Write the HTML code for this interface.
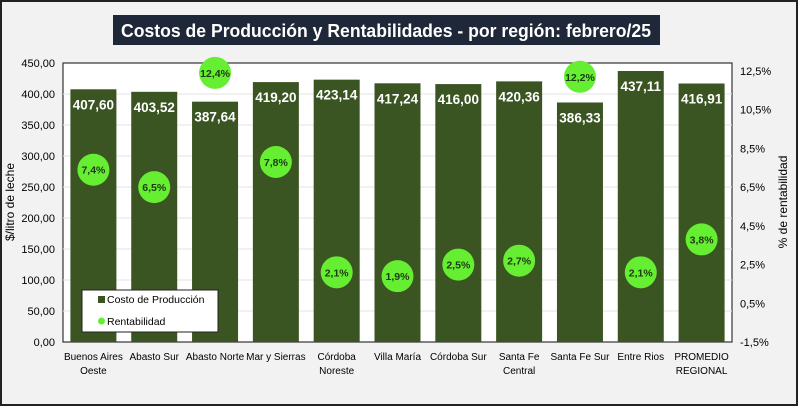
<!DOCTYPE html>
<html><head><meta charset="utf-8"><style>
body{margin:0;background:#fff}
svg{display:block;font-family:"Liberation Sans",sans-serif}
</style></head><body>
<svg id="c" width="800" height="408">
<rect x="1" y="1" width="796" height="404" fill="#f2f2f2" stroke="#222" stroke-width="2"/>
<rect x="113" y="15" width="547" height="30" fill="#1e2838"/>
<text x="386" y="37" text-anchor="middle" fill="#fff" font-size="18" font-weight="bold" textLength="530" lengthAdjust="spacingAndGlyphs">Costos de Producción y Rentabilidades - por región: febrero/25</text>
<rect x="63" y="63" width="669" height="279" fill="#fff" stroke="#333" stroke-width="1.2"/>
<g id="grid"></g><g id="bars"></g><g id="ax"></g><g id="dots"></g>
<text transform="translate(14,202) rotate(-90)" text-anchor="middle" font-size="12" fill="#000">$/litro de leche</text>
<text transform="translate(787,202) rotate(-90)" text-anchor="middle" font-size="12" fill="#000">% de rentabilidad</text>
<g>
<rect x="82" y="290" width="136" height="42" fill="#fff" stroke="#222" stroke-width="1"/>
<rect x="98" y="296" width="7" height="7" fill="#3b5522"/>
<text x="107" y="303" font-size="10.5">Costo de Producción</text>
<circle cx="101.5" cy="321" r="3.5" fill="#66ee33"/>
<text x="107" y="325" font-size="10.5">Rentabilidad</text>
</g>
</svg>
<script>
const categories=[["Buenos Aires","Oeste"],["Abasto Sur"],["Abasto Norte"],["Mar y Sierras"],["Córdoba","Noreste"],["Villa María"],["Córdoba Sur"],["Santa Fe","Central"],["Santa Fe Sur"],["Entre Rios"],["PROMEDIO","REGIONAL"]];
const costos=[407.60,403.52,387.64,419.20,423.14,417.24,416.00,420.36,386.33,437.11,416.91];
const rentab=[7.4,6.5,12.4,7.8,2.1,1.9,2.5,2.7,12.2,2.1,3.8];
const leftTicks=[0,50,100,150,200,250,300,350,400,450];
const rightTicks=[-1.5,0.5,2.5,4.5,6.5,8.5,10.5,12.5];
const NS="http://www.w3.org/2000/svg";
const X0=63,X1=732,Y0=342,Y1=63,YR1=71;
const band=(X1-X0)/categories.length;
const xc=i=>X0+band*(i+0.5);
const yL=v=>Y0-(v/450)*(Y0-Y1);
const yR=v=>Y0-((v+1.5)/14)*(Y0-YR1);
const fmt=(v,d)=>v.toFixed(d).replace('.',',');
function mk(t,a,p,txt){const e=document.createElementNS(NS,t);for(const k in a)e.setAttribute(k,a[k]);if(txt!==undefined)e.textContent=txt;document.getElementById(p).appendChild(e);return e;}
leftTicks.forEach(v=>{
 if(v>0&&v<450){const g=mk('line',{x1:X0,x2:X1,y1:yL(v),y2:yL(v),stroke:'#e3e3e3'},'grid');
 
 }
 const t=mk('text',{x:55,y:yL(v)+4,'text-anchor':'end','font-size':'11'},'ax',fmt(v,2));
 
 
});
rightTicks.forEach(v=>{
 const t=mk('text',{x:740,y:yR(v)+4,'font-size':'11'},'ax',fmt(v,1)+'%');
 
 
});
categories.forEach((c,i)=>{
 const b=mk('rect',{x:xc(i)-23,y:yL(costos[i]),width:46,height:Y0-yL(costos[i]),fill:'#3b5522'},'bars');
 
 
 const l=mk('text',{x:xc(i),y:yL(costos[i])+20,'text-anchor':'middle','font-size':'13.5','font-weight':'bold',fill:'#fff'},'bars',fmt(costos[i],2));
 
 
 c.forEach((s,k)=>{const t=mk('text',{x:xc(i),y:360+k*14,'text-anchor':'middle','font-size':'10'},'ax',s);
 
 });
 const d=mk('circle',{cx:xc(i),cy:yR(rentab[i]),r:16,fill:'#66ee33'},'dots');
 
 
 const dl=mk('text',{x:xc(i),y:yR(rentab[i])+4,'text-anchor':'middle','font-size':'10.5','font-weight':'bold',fill:'#1d3a10'},'dots',fmt(rentab[i],1)+'%');
 
 
});
</script>
</body></html>
